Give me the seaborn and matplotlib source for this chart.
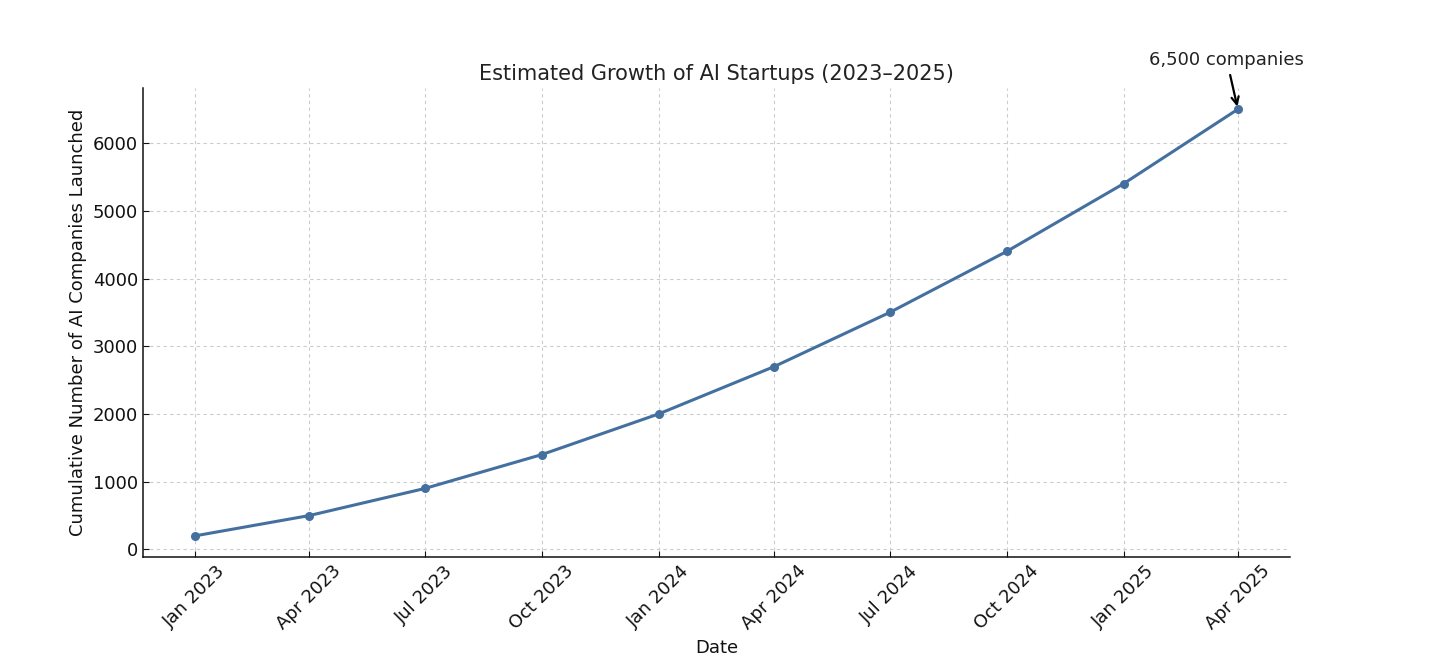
import pandas as pd
import matplotlib
matplotlib.use("Agg")
import matplotlib.pyplot as plt
import seaborn as sns

# quarterly cumulative counts
dates = ["2023-01-01", "2023-04-01", "2023-07-01", "2023-10-01", "2024-01-01",
         "2024-04-01", "2024-07-01", "2024-10-01", "2025-01-01", "2025-04-01"]
companies = [200, 500, 900, 1400, 2000, 2700, 3500, 4400, 5400, 6500]
tick_labels = ["Jan 2023", "Apr 2023", "Jul 2023", "Oct 2023", "Jan 2024",
               "Apr 2024", "Jul 2024", "Oct 2024", "Jan 2025", "Apr 2025"]

df = pd.DataFrame({"Date": pd.to_datetime(dates), "Companies": companies})

sns.set_style("ticks")
plt.rcParams["font.family"] = ["DejaVu Sans"]
plt.rcParams.update({
    "xtick.direction": "in", "ytick.direction": "in",
    "text.color": "#111111", "axes.labelcolor": "#111111",
    "xtick.color": "#111111", "ytick.color": "#111111",
    "axes.edgecolor": "#111111", "axes.linewidth": 1.1,
})

fig, ax = plt.subplots(figsize=(14.56, 6.61), dpi=100)
fig.subplots_adjust(left=0.098, right=0.886, top=0.867, bottom=0.157)

sns.lineplot(data=df, x="Date", y="Companies", ax=ax, color="#4470A0",
             linewidth=2.2, marker="o", markersize=6.5, markeredgewidth=0)

ax.set_xticks(df["Date"])
ax.set_xticklabels(tick_labels, rotation=45, ha="center")
ax.tick_params(labelsize=13, length=4)
ax.grid(True, linestyle=(0, (3, 3)), color="#cccccc", linewidth=0.8)
sns.despine(ax=ax)

ax.set_title("Estimated Growth of AI Startups (2023\u20132025)", fontsize=15, color="#222222")
ax.set_xlabel("Date", fontsize=13)
ax.set_ylabel("Cumulative Number of AI Companies Launched", fontsize=13)

last = df.iloc[-1]
ax.annotate(f"{last['Companies']:,} companies", xy=(last["Date"], last["Companies"]),
            xytext=(-8, 29), textcoords="offset points", ha="center", va="bottom",
            fontsize=13, color="#222222",
            arrowprops=dict(arrowstyle="->", color="black", lw=1.6))

fig.savefig("out.png", dpi=100)
